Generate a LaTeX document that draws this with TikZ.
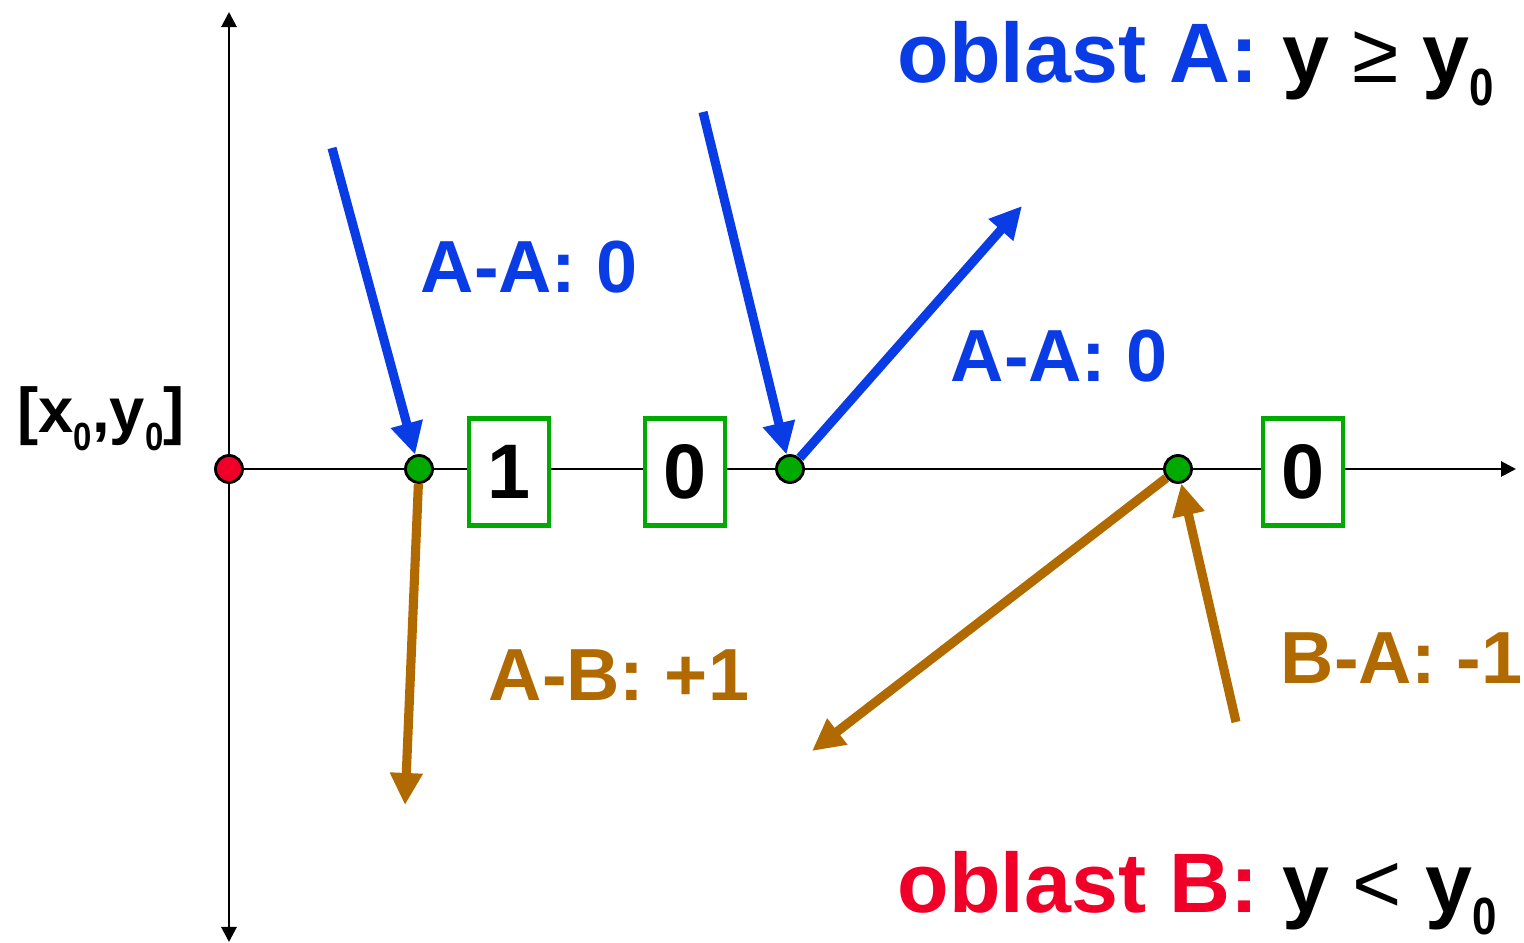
\documentclass[tikz,border=0pt]{standalone}
\usepackage{fontspec}
\setmainfont{Liberation Sans}
\usepackage{graphicx}
\usepackage{xcolor}
\usetikzlibrary{arrows.meta}
\usetikzlibrary{math}

\definecolor{regblue}{RGB}{10,60,230}
\definecolor{regred}{RGB}{240,0,40}
\definecolor{regbrown}{RGB}{176,106,0}
\definecolor{reggreen}{RGB}{0,170,0}

\newcommand{\nula}{\raisebox{-0.27em}{\scalebox{0.52}[0.62]{0}}}

\tikzset{
axis/.style={line width=0.8pt},
flow/.style={line width=2.6pt, -{Triangle[length=0.32cm,width=0.31cm]}},
dot/.style={circle, draw=black, line width=0.8pt, inner sep=0pt, minimum size=0.27cm},
valbox/.style={draw=reggreen, line width=1.3pt, fill=white, minimum width=0.8cm, minimum height=1.07cm, inner sep=0pt, font=\fontsize{22}{22}\selectfont\bfseries},
lab/.style={anchor=base west, inner sep=0pt, font=\fontsize{21}{21}\selectfont\bfseries},
region/.style={anchor=base west, inner sep=0pt, font=\fontsize{24}{24}\selectfont\bfseries}
}

\begin{document}
\begin{tikzpicture}[x=0.01cm, y=-0.01cm]
\tikzmath{
\yax=469;
\ybox=472;
}
\useasboundingbox (0,0) rectangle (1524,943);

\coordinate (orig) at (229,\yax);
\coordinate (ybot) at (229,942);
\coordinate (ytop) at (229,12);
\coordinate (xend) at (1516,\yax);

\draw[axis, {Triangle[length=0.15cm,width=0.15cm]}-{Triangle[length=0.15cm,width=0.15cm]}] (ybot) -- (ytop);
\draw[axis, -{Triangle[length=0.15cm,width=0.15cm]}] (orig) -- (xend);

\foreach \xb/\val [count=\i] in {509/1,685/0,1303/0}{
\node[valbox] (box\i) at (\xb,\ybox) {\val};
}

\node[dot, fill=regred] (O) at (orig) {};
\node[dot, fill=reggreen] (p1) at (419,\yax) {};
\node[dot, fill=reggreen] (p2) at (790,\yax) {};
\node[dot, fill=reggreen] (p3) at (1178,\yax) {};

\coordinate (a1) at (332,148);
\coordinate (a2) at (703,112);
\coordinate (a3) at (1022,206);
\coordinate (b1) at (405,805);
\coordinate (b2) at (812,751);
\coordinate (b3) at (1236,722);

\draw[flow, regblue] (a1) -- (p1);
\draw[flow, regblue] (a2) -- (p2);
\draw[flow, regblue] (p2) -- (a3);
\draw[flow, regbrown] (p1) -- (b1);
\draw[flow, regbrown] (p3) -- (b2);
\draw[flow, regbrown] (b3) -- (p3);

\node[lab, text=regblue] (aa1) at (420,293) {A-A: 0};
\node[lab, text=regblue] (aa2) at (950,382) {A-A: 0};
\node[lab, text=regbrown] (ab) at (488,700) {A-B: +1};
\node[lab, text=regbrown] (ba) at (1280,683) {B-A: -1};

\node[anchor=base west, inner sep=0pt, font=\fontsize{18}{18}\selectfont\bfseries] (x0y0) at (17,433) {[x\nula,y\nula]};

\node[region] (regA) at (897,83) {\textcolor{regblue}{oblast A:} y {\mdseries ≥} y\nula};
\node[region] (regB) at (897,912) {\textcolor{regred}{oblast B:} y {\mdseries <} y\nula};
\end{tikzpicture}
\end{document}
